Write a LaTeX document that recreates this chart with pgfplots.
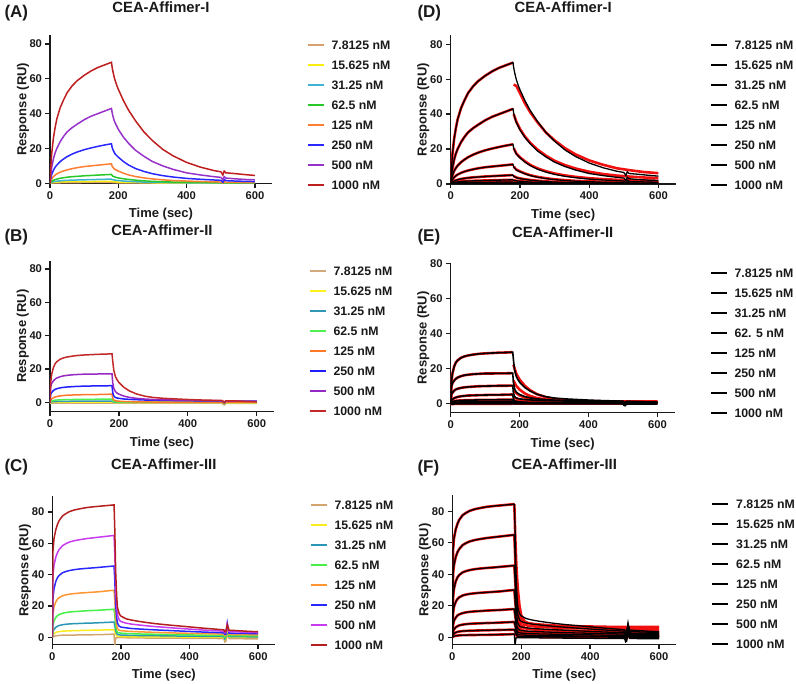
\documentclass[border=0pt]{standalone}
\usepackage{pgfplots}
\pgfplotsset{compat=1.18}
\usepackage{pgfplotstable}
\usepackage{fontspec}
\setmainfont{Liberation Sans}

% Panel A colours
\definecolor{aTan}{HTML}{D8A070}
\definecolor{aYel}{HTML}{F8EC10}
\definecolor{aCya}{HTML}{3CB4D2}
\definecolor{aGrn}{HTML}{28C828}
\definecolor{aOra}{HTML}{FF7F32}
\definecolor{aBlu}{HTML}{2828FF}
\definecolor{aPur}{HTML}{9632C8}
\definecolor{aRed}{HTML}{BE1E1E}
% Panel B colours
\definecolor{bTan}{HTML}{D2AA7D}
\definecolor{bYel}{HTML}{FAF21E}
\definecolor{bCya}{HTML}{3296B4}
\definecolor{bGrn}{HTML}{50F050}
\definecolor{bOra}{HTML}{FF7828}
\definecolor{bBlu}{HTML}{1E1EFF}
\definecolor{bPur}{HTML}{9628C3}
\definecolor{bRed}{HTML}{C32828}
% Panel C colours
\definecolor{cTan}{HTML}{D2A46E}
\definecolor{cYel}{HTML}{F8EC1E}
\definecolor{cCya}{HTML}{2896B4}
\definecolor{cGrn}{HTML}{46F046}
\definecolor{cOra}{HTML}{FF9632}
\definecolor{cBlu}{HTML}{2828FF}
\definecolor{cPur}{HTML}{C83CF0}
\definecolor{cRed}{HTML}{B41E1E}
\definecolor{fitred}{HTML}{F01010}
\definecolor{txt}{HTML}{1A1A1A}

% a..h = 7.8125, 15.625, 31.25, 62.5, 125, 250, 500, 1000 nM
\pgfplotstableread{
t a b c d e f g h
0 0 0 0 0 0 0 0 0
2 0.1 0.2 0.3 0.5 1.2 2.5 4 8
5 0.2 0.4 0.6 1.1 2.5 5 9 17
10 0.2 0.5 0.9 1.7 3.8 7.5 14 26
15 0.3 0.6 1.1 2.1 4.7 9.2 17.5 32
20 0.3 0.7 1.2 2.4 5.4 10.5 20 37
30 0.3 0.8 1.4 2.9 6.4 12.5 24 43.5
40 0.4 0.8 1.6 3.2 7.1 14 27 48
50 0.4 0.9 1.7 3.5 7.7 15.3 29.5 52
65 0.4 0.9 1.8 3.8 8.4 16.8 32 56
80 0.4 1.0 1.9 4.0 9.0 18 34 59
100 0.5 1.0 2.0 4.3 9.6 19.3 36.5 62
120 0.5 1.0 2.1 4.5 10.0 20.3 38.5 64.5
140 0.5 1.1 2.2 4.7 10.4 21.2 40 66.5
160 0.5 1.1 2.3 4.9 10.8 22 41.5 68
180 0.5 1.1 2.4 5.1 11.2 22.7 43 69.5
182 0.4 1.0 2.1 4.4 9.8 20.5 40.5 66.5
185 0.4 0.9 2.0 4.0 9.0 19 38 63.5
188 0.4 0.9 1.9 3.8 8.4 17.8 36 61
190 0.4 0.8 1.8 3.6 8.0 17 35 59.5
195 0.3 0.8 1.7 3.3 7.5 16 33 56.5
200 0.3 0.7 1.6 3.1 7.0 15 31 54
215 0.3 0.6 1.3 2.6 5.8 12.5 26.5 47.5
230 0.3 0.5 1.1 2.2 4.8 10.5 23 42
250 0.2 0.5 0.9 1.8 3.9 8.5 19 36
275 0.2 0.4 0.7 1.4 3.1 6.8 15.5 29.5
300 0.2 0.3 0.6 1.1 2.5 5.5 12.5 24.5
330 0.1 0.3 0.5 0.9 2.0 4.4 10 19.5
360 0.1 0.2 0.4 0.7 1.6 3.6 8 15.8
400 0.1 0.2 0.3 0.6 1.3 2.8 6 12
440 0.1 0.1 0.3 0.5 1.0 2.3 4.8 9.3
480 0.1 0.1 0.2 0.4 0.8 1.9 3.8 7.3
500 0.1 0.1 0.2 0.3 0.7 1.7 3.4 6.6
503 -0.3 -0.3 -0.2 0.1 0.4 1.2 2.8 5.8
506 -0.6 -0.5 -0.4 -0.2 0.1 0.6 2.0 4.8
510 0.3 0.3 0.4 0.5 0.9 2.2 3.8 7
515 0.1 0.1 0.2 0.3 0.6 1.5 3.0 6
540 0.1 0.1 0.2 0.3 0.5 1.3 2.6 5.6
570 0.0 0.1 0.1 0.2 0.4 1.1 2.2 5
600 0.0 0.0 0.1 0.2 0.4 1.0 2.0 4.5
}\dataI

\pgfplotstableread{
t a b c d e f g h
0 0 0 0 0 0 0 0 0
2 -0.5 0 0.3 0.6 1.5 5 9.5 12
5 -0.5 0.1 0.4 0.9 2.2 6 11.5 17
10 -0.4 0.2 0.5 1.2 2.9 7.2 13 21
15 -0.4 0.2 0.6 1.4 3.3 7.9 14 23.3
20 -0.4 0.2 0.6 1.5 3.6 8.3 14.7 24.5
30 -0.4 0.3 0.7 1.6 4.0 8.8 15.5 26
40 -0.4 0.3 0.7 1.7 4.2 9.1 16 26.8
50 -0.4 0.3 0.7 1.8 4.4 9.3 16.3 27.3
65 -0.4 0.3 0.8 1.8 4.5 9.5 16.6 27.8
80 -0.3 0.3 0.8 1.9 4.6 9.7 16.8 28.2
100 -0.3 0.3 0.8 1.9 4.7 9.8 17 28.5
120 -0.3 0.3 0.8 1.9 4.8 9.9 17 28.7
140 -0.3 0.3 0.8 2.0 4.8 10 17.1 28.9
160 -0.3 0.3 0.8 2.0 4.9 10 17.1 29
180 -0.3 0.3 0.9 2.0 5.0 10.1 17.2 29.2
182 -0.4 0.1 0.5 1.0 2.5 6 12 25
185 -0.4 0 0.3 0.6 1.5 4 8.5 19.5
188 -0.4 0 0.2 0.4 1.2 3.3 7.2 17
190 -0.4 0 0.2 0.4 1.1 3 6.5 15.5
195 -0.4 -0.1 0.1 0.3 0.9 2.7 5.6 13.5
200 -0.4 -0.1 0.1 0.3 0.8 2.5 5 12
215 -0.4 -0.1 0.1 0.2 0.6 2.1 3.8 9
230 -0.4 -0.1 0.1 0.2 0.5 1.9 3.1 7
250 -0.4 -0.1 0.1 0.2 0.4 1.7 2.5 5.2
275 -0.4 -0.1 0.1 0.2 0.4 1.5 2.1 3.8
300 -0.4 -0.1 0.1 0.2 0.3 1.4 1.8 3
330 -0.4 -0.1 0.1 0.2 0.3 1.3 1.6 2.5
360 -0.4 -0.1 0.1 0.2 0.3 1.2 1.5 2.2
400 -0.4 -0.1 0.1 0.2 0.3 1.1 1.3 1.8
440 -0.4 -0.1 0.1 0.2 0.3 1.0 1.2 1.5
480 -0.4 -0.1 0.1 0.2 0.3 1.0 1.1 1.3
500 -0.4 -0.1 0.1 0.2 0.3 0.9 1.0 1.2
503 -1.2 -0.8 -0.6 -0.4 -0.3 0.4 0.4 0.6
506 -1.4 -1.0 -0.8 -0.6 -0.5 0.1 0 0.2
510 -0.6 -0.3 0 0.2 0.3 0.9 0.9 1
515 -0.5 -0.2 0.1 0.2 0.3 0.9 0.9 1
540 -0.5 -0.2 0.1 0.2 0.3 0.9 0.8 0.9
570 -0.5 -0.2 0.1 0.2 0.3 0.8 0.7 0.7
600 -0.5 -0.2 0.1 0.2 0.3 0.8 0.6 0.5
}\dataII

\pgfplotstableread{
t a b c d e f g h
0 0 0 0 0 0 0 0 0
2 0.3 1.5 3.5 7.5 15 25 40 55
5 0.6 2.3 5 10.5 19.5 31 46 63
10 0.9 3 6.3 12.5 22.5 35.5 51 68.5
15 1.0 3.4 7 13.8 24.3 38 54 72
20 1.2 3.6 7.5 14.5 25.3 39.5 56 74.5
30 1.3 3.9 8 15.3 26.5 41.2 58.5 77.5
40 1.3 4.0 8.3 15.8 27.1 42 59.8 79
50 1.4 4.1 8.5 16.1 27.5 42.6 60.8 80.2
65 1.4 4.2 8.7 16.4 27.9 43.2 61.7 81.3
80 1.5 4.3 8.8 16.6 28.2 43.6 62.3 82
100 1.5 4.4 9 16.9 28.5 44 63 82.8
120 1.6 4.5 9.1 17.1 28.8 44.3 63.5 83.3
140 1.7 4.6 9.3 17.3 29.1 44.7 64 83.7
160 1.8 4.7 9.5 17.6 29.6 45.1 64.5 84.1
180 2.0 4.8 9.7 17.9 30 45.5 65 84.5
182 -5 3.5 7.5 14 24 37 54 70
185 -0.5 1.8 4 7 12 20 30 40
188 -0.3 0.9 2.3 4 7 12 19 25
190 -0.3 0.6 1.8 3.2 5.5 9 14.5 19
195 -0.3 0.5 1.5 2.8 4.5 7 11 15
200 -0.3 0.4 1.4 2.6 4.2 6.5 10 13.5
215 -0.3 0.4 1.3 2.4 3.9 6 9 11.8
230 -0.4 0.3 1.2 2.3 3.7 5.6 8.4 11
250 -0.4 0.3 1.1 2.1 3.5 5.3 7.9 10.2
275 -0.5 0.3 1.0 2.0 3.3 5 7.3 9.4
300 -0.5 0.2 1.0 1.9 3.1 4.7 6.8 8.7
330 -0.6 0.2 0.9 1.8 2.9 4.4 6.3 8
360 -0.6 0.2 0.8 1.6 2.7 4.1 5.8 7.4
400 -0.7 0.1 0.7 1.5 2.5 3.7 5.2 6.6
440 -0.8 0.1 0.6 1.3 2.3 3.3 4.6 5.8
480 -0.8 0.0 0.5 1.2 2.1 3.0 4.1 5.1
500 -0.9 0.0 0.5 1.1 2.0 2.8 3.8 4.7
503 -3 -1.5 -1 0 1 1.8 2.8 3.5
506 -2.5 -1 0 0.5 1.2 2 3 3.8
510 2 3 4 5 6 9 8 8
515 -0.8 0 0.4 1 1.8 2.6 3.6 4.5
540 -0.9 0 0.4 1.0 1.7 2.5 3.4 4.2
570 -1.0 0 0.3 0.9 1.6 2.4 3.2 3.8
600 -1.0 0 0.3 0.9 1.5 2.3 3.0 3.5
}\dataIII

% fitted dissociation curves
\pgfplotstableread{
t a b c d e f g h
182 0.4 1 2.1 4.5 9.9 20.5 40 57
190 0.35 0.8 1.8 3.7 8.2 17.3 35.5 56
200 0.3 0.7 1.6 3.2 7.2 15.3 31.5 52
215 0.3 0.6 1.3 2.7 6 12.9 27 46
230 0.25 0.5 1.1 2.3 5 10.9 23.5 41
250 0.2 0.4 0.9 1.9 4.1 9 19.8 35.5
275 0.2 0.35 0.7 1.5 3.3 7.3 16.2 29.5
300 0.15 0.3 0.6 1.2 2.7 6 13.3 25
330 0.1 0.25 0.5 1 2.2 4.9 10.8 20.5
360 0.1 0.2 0.4 0.8 1.8 4.1 8.9 17
400 0.1 0.2 0.35 0.7 1.5 3.3 7 13.5
440 0.1 0.2 0.3 0.6 1.3 2.8 5.7 11
480 0.1 0.2 0.3 0.5 1.1 2.4 4.8 9
520 0.1 0.2 0.3 0.5 1 2.1 4.2 7.8
560 0.1 0.2 0.3 0.5 0.9 1.9 3.7 6.8
600 0.1 0.2 0.3 0.5 0.9 1.8 3.4 6.2
}\fitI

\pgfplotstableread{
t a b c d e f g h
182 -0.3 0.2 0.6 1.5 3.6 7.5 13 22
190 -0.3 0.15 0.5 1.1 2.8 5.8 10 17
200 -0.3 0.1 0.4 0.9 2.2 4.5 7.8 13.5
215 -0.3 0.1 0.3 0.6 1.6 3.3 5.6 10
230 -0.3 0 0.2 0.5 1.2 2.6 4.2 7.5
250 -0.3 0 0.2 0.4 0.9 2 3 5.2
275 -0.3 0 0.2 0.3 0.7 1.6 2.1 3.5
300 -0.3 0 0.2 0.3 0.5 1.3 1.6 2.5
330 -0.3 0 0.2 0.3 0.4 1.1 1.3 1.9
360 -0.3 0 0.2 0.3 0.4 1 1.1 1.5
400 -0.3 0 0.2 0.3 0.4 0.9 1 1.2
440 -0.3 0 0.2 0.3 0.4 0.9 0.9 1.1
480 -0.3 0 0.2 0.3 0.4 0.9 0.9 1
520 -0.3 0 0.2 0.3 0.4 0.9 0.9 1
560 -0.3 0 0.2 0.3 0.4 0.9 0.9 1
600 -0.3 0 0.2 0.3 0.4 0.9 0.9 1
}\fitII

\pgfplotstableread{
t a b c d e f g h
180 2 4.8 9.7 17.9 30 45.5 65 84.5
183 1.5 3.5 7 13 22 34 48 62
186 1.1 2.6 5.2 9.5 16 25 35 45
190 0.7 1.8 3.5 6.5 11 17 24 31
195 0.5 1.1 2.3 4.2 7 11 15.5 20
200 0.3 0.8 1.6 3 5 7.8 11 14
210 0.2 0.6 1.2 2.2 3.7 5.8 8 10
220 0.2 0.5 1.1 2 3.3 5.2 7.3 9
240 0.2 0.5 1 1.9 3.1 4.8 6.8 8.3
270 0.1 0.5 1 1.8 2.9 4.5 6.4 7.8
300 0.1 0.4 0.9 1.7 2.8 4.3 6.1 7.4
350 0.1 0.4 0.9 1.6 2.7 4.1 5.8 7
400 0.1 0.4 0.9 1.6 2.6 4 5.6 6.8
450 0.1 0.4 0.9 1.6 2.6 3.9 5.5 6.6
500 0.1 0.4 0.9 1.6 2.6 3.9 5.4 6.5
550 0.1 0.4 0.9 1.6 2.6 3.9 5.4 6.5
600 0.1 0.4 0.9 1.6 2.6 3.9 5.4 6.5
}\fitIII

\pgfplotsset{
  prism/.style={
    scale only axis,
    axis lines=left,
    axis line style={-, line width=1.3pt, txt},
    xmin=0, xmax=650,
    xtick={0,200,400,600},
    ytick={0,20,40,60,80},
    tick align=outside,
    major tick length=4.5pt,
    tick style={txt, line width=1.3pt},
    tick label style={font=\bfseries\fontsize{11.2}{13}\selectfont, text=txt},
    /pgf/number format/assume math mode=true,
    xlabel={Time (sec)},
    ylabel={Response (RU)},
    label style={font=\bfseries\fontsize{13}{15}\selectfont, text=txt},
    xlabel style={at={(axis description cs:0.5,0)}, anchor=center, yshift=-31pt},
    ylabel style={at={(axis description cs:-0.122,0.5)}, anchor=center},
    title style={font=\bfseries\fontsize{14.8}{17}\selectfont, text=txt, at={(axis description cs:0.5,1)}, anchor=center},
    legend cell align=left,
    legend image code/.code={\draw[##1, line width=1.5pt] (0pt,0pt) -- (16pt,0pt);},
    legend style={draw=none, fill=none, inner sep=0pt, outer sep=0pt, anchor=north west,
       at={(axis description cs:0,0)}, row sep=11.7pt, column sep=7pt,
       font=\bfseries\fontsize{12.3}{14}\selectfont, text=txt,
       nodes={inner sep=0pt, text height=8.3pt, text depth=0pt}},
  },
  dat/.style={line width=1.5pt, no marks},
  blk/.style={line width=1.3pt, black, no marks, forget plot},
  fit/.style={line width=2.6pt, fitred, no marks, forget plot},
  bleg/.style={black, line width=1.3pt},
}

\begin{document}
\begin{tikzpicture}
\path[use as bounding box] (0pt,0pt) rectangle (796pt,684pt);

\node[anchor=west, text=txt, font=\bfseries\fontsize{17}{19}\selectfont] at (1pt,671pt) {(A)};
\node[anchor=west, text=txt, font=\bfseries\fontsize{17}{19}\selectfont] at (1pt,447.3pt) {(B)};
\node[anchor=west, text=txt, font=\bfseries\fontsize{17}{19}\selectfont] at (1pt,217.3pt) {(C)};
\node[anchor=west, text=txt, font=\bfseries\fontsize{17}{19}\selectfont] at (414pt,671pt) {(D)};
\node[anchor=west, text=txt, font=\bfseries\fontsize{17}{19}\selectfont] at (414pt,447.3pt) {(E)};
\node[anchor=west, text=txt, font=\bfseries\fontsize{17}{19}\selectfont] at (414pt,215.7pt) {(F)};

% ---------------- A ----------------
\begin{axis}[prism, at={(50pt,500.7pt)}, width=222pt, height=148pt,
  ymin=0, ymax=85, title={CEA-Affimer-I}, title style={yshift=22pt},
  legend style={xshift=257pt, yshift=142.45pt}]
\addplot[dat, aTan] table[x=t,y=a]{\dataI}; \addlegendentry{7.8125 nM}
\addplot[dat, aYel] table[x=t,y=b]{\dataI}; \addlegendentry{15.625 nM}
\addplot[dat, aCya] table[x=t,y=c]{\dataI}; \addlegendentry{31.25 nM}
\addplot[dat, aGrn] table[x=t,y=d]{\dataI}; \addlegendentry{62.5 nM}
\addplot[dat, aOra] table[x=t,y=e]{\dataI}; \addlegendentry{125 nM}
\addplot[dat, aBlu] table[x=t,y=f]{\dataI}; \addlegendentry{250 nM}
\addplot[dat, aPur] table[x=t,y=g]{\dataI}; \addlegendentry{500 nM}
\addplot[dat, aRed] table[x=t,y=h]{\dataI}; \addlegendentry{1000 nM}
\end{axis}

% ---------------- B ----------------
\begin{axis}[prism, at={(50pt,272.3pt)}, width=224pt, height=151pt,
  ymin=-5.5, ymax=85, title={CEA-Affimer-II}, title style={yshift=24pt},
  legend style={xshift=259pt, yshift=144.85pt}]
\addplot[dat, bTan] table[x=t,y=a]{\dataII}; \addlegendentry{7.8125 nM}
\addplot[dat, bYel] table[x=t,y=b]{\dataII}; \addlegendentry{15.625 nM}
\addplot[dat, bCya] table[x=t,y=c]{\dataII}; \addlegendentry{31.25 nM}
\addplot[dat, bGrn] table[x=t,y=d]{\dataII}; \addlegendentry{62.5 nM}
\addplot[dat, bOra] table[x=t,y=e]{\dataII}; \addlegendentry{125 nM}
\addplot[dat, bBlu] table[x=t,y=f]{\dataII}; \addlegendentry{250 nM}
\addplot[dat, bPur] table[x=t,y=g]{\dataII}; \addlegendentry{500 nM}
\addplot[dat, bRed] table[x=t,y=h]{\dataII}; \addlegendentry{1000 nM}
\end{axis}

% ---------------- C ----------------
\begin{axis}[prism, at={(52.3pt,39.7pt)}, width=223pt, height=148pt,
  ymin=-4.5, ymax=90, title={CEA-Affimer-III}, title style={yshift=26pt},
  legend style={xshift=257.7pt, yshift=143.45pt}]
\addplot[dat, cTan] table[x=t,y=a]{\dataIII}; \addlegendentry{7.8125 nM}
\addplot[dat, cYel] table[x=t,y=b]{\dataIII}; \addlegendentry{15.625 nM}
\addplot[dat, cCya] table[x=t,y=c]{\dataIII}; \addlegendentry{31.25 nM}
\addplot[dat, cGrn] table[x=t,y=d]{\dataIII}; \addlegendentry{62.5 nM}
\addplot[dat, cOra] table[x=t,y=e]{\dataIII}; \addlegendentry{125 nM}
\addplot[dat, cBlu] table[x=t,y=f]{\dataIII}; \addlegendentry{250 nM}
\addplot[dat, cPur] table[x=t,y=g]{\dataIII}; \addlegendentry{500 nM}
\addplot[dat, cRed] table[x=t,y=h]{\dataIII}; \addlegendentry{1000 nM}
\end{axis}

% ---------------- D ----------------
\begin{axis}[prism, at={(450.7pt,500pt)}, width=225pt, height=148.5pt,
  ymin=0, ymax=85, title={CEA-Affimer-I}, title style={yshift=22pt},
  legend style={xshift=259.3pt, yshift=143.15pt}]
\pgfplotsinvokeforeach{7.8125,15.625,31.25,62.5,125,250,500,1000}{\addlegendimage{bleg}\addlegendentry{#1 nM}}
\pgfplotsinvokeforeach{a,b,c,d,e,f,g,h}{
  \addplot[fit, restrict x to domain=0:180] table[x=t,y=#1]{\dataI};
  \addplot[fit] table[x=t,y=#1]{\fitI};
}
\pgfplotsinvokeforeach{a,b,c,d,e,f,g,h}{
  \addplot[blk] table[x=t,y=#1]{\dataI};
}
\end{axis}

% ---------------- E ----------------
\begin{axis}[prism, at={(450.7pt,271.3pt)}, width=224pt, height=149.4pt,
  ymin=-5.4, ymax=80, title={CEA-Affimer-II}, title style={yshift=25pt},
  legend style={xshift=259.3pt, yshift=143.85pt}]
\pgfplotsinvokeforeach{7.8125,15.625,31.25,62. 5,125,250,500,1000}{\addlegendimage{bleg, line width=1.6pt}\addlegendentry{#1 nM}}
\pgfplotsinvokeforeach{a,b,c,d,e,f,g,h}{
  \addplot[fit, restrict x to domain=0:180] table[x=t,y=#1]{\dataII};
  \addplot[fit] table[x=t,y=#1]{\fitII};
}
\pgfplotsinvokeforeach{a,b,c,d,e,f,g,h}{
  \addplot[blk, line width=1.6pt] table[x=t,y=#1]{\dataII};
}
\end{axis}

% ---------------- F ----------------
\begin{axis}[prism, at={(452.3pt,39.7pt)}, width=224pt, height=148.8pt,
  ymin=-4.5, ymax=90, title={CEA-Affimer-III}, title style={yshift=25.7pt},
  legend style={xshift=259.4pt, yshift=144.45pt}]
\pgfplotsinvokeforeach{7.8125,15.625,31.25,62.5,125,250,500,1000}{\addlegendimage{bleg}\addlegendentry{#1 nM}}
\pgfplotsinvokeforeach{a,b,c,d,e,f,g,h}{
  \addplot[fit, restrict x to domain=0:180] table[x=t,y=#1]{\dataIII};
  \addplot[fit] table[x=t,y=#1]{\fitIII};
}
\pgfplotsinvokeforeach{a,b,c,d,e,f,g,h}{
  \addplot[blk] table[x=t,y=#1]{\dataIII};
}
\end{axis}
\end{tikzpicture}
\end{document}
